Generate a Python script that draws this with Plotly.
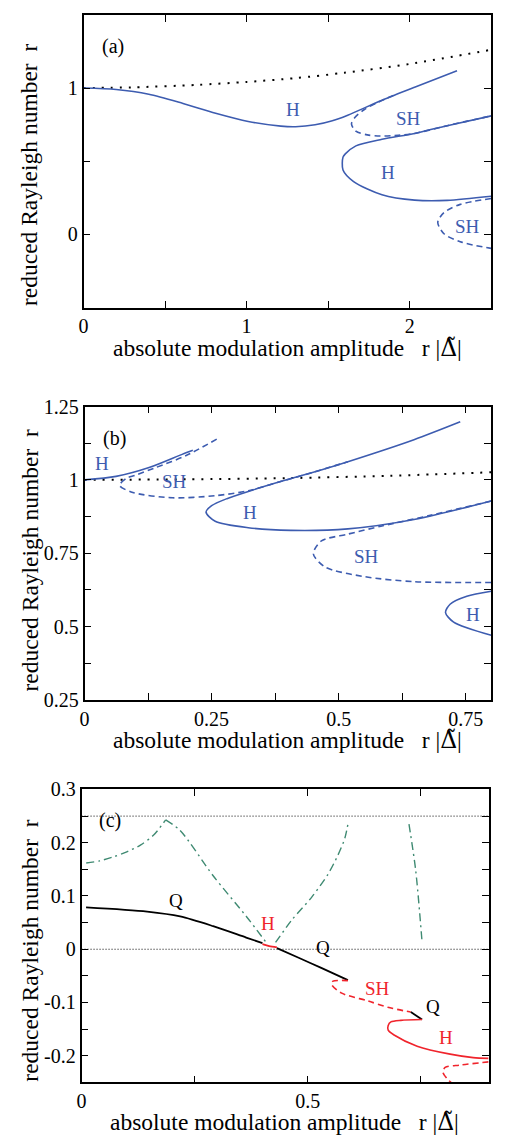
import plotly.graph_objects as go

# ---------------- data ----------------
# Panel (a)
A_DOT_X = [0, 0.3, 0.7, 1.0, 1.3, 1.6, 2.0, 2.5]
A_DOT_Y = [1.0, 1.005, 1.022, 1.042, 1.068, 1.105, 1.165, 1.262]
A_H1_X = [0, 0.2, 0.4, 0.61, 0.81, 1.01, 1.21, 1.3, 1.42, 1.52, 1.62, 1.83, 2.03, 2.29]
A_H1_Y = [1.0, 0.99, 0.958, 0.895, 0.828, 0.772, 0.74, 0.736, 0.749, 0.775, 0.815, 0.917, 1.006, 1.118]
A_SH1_X = [1.9, 1.8, 1.72, 1.665, 1.643, 1.67, 1.74, 1.82, 1.93, 2.03, 2.23, 2.5]
A_SH1_Y = [0.95, 0.9, 0.852, 0.8, 0.755, 0.705, 0.68, 0.672, 0.677, 0.69, 0.743, 0.81]
A_H2_X = [2.5, 2.23, 2.03, 1.83, 1.67, 1.605, 1.591, 1.591, 1.656, 1.83, 2.03, 2.23, 2.5]
A_H2_Y = [0.81, 0.743, 0.69, 0.65, 0.605, 0.55, 0.528, 0.44, 0.361, 0.271, 0.234, 0.232, 0.26]
A_SH2_X = [2.5, 2.31, 2.21, 2.172, 2.21, 2.31, 2.5]
A_SH2_Y = [0.245, 0.205, 0.149, 0.082, 0.004, -0.051, -0.096]

# Panel (b)
B_DOT_X = [0, 0.2, 0.4, 0.6, 0.8]
B_DOT_Y = [1.0, 1.002, 1.006, 1.014, 1.026]
B_H1_X = [0, 0.062, 0.127, 0.192, 0.213]
B_H1_Y = [1.0, 1.012, 1.042, 1.087, 1.101]
B_SH1_X = [0.26, 0.2, 0.14, 0.1, 0.082, 0.069, 0.095, 0.173, 0.257, 0.322, 0.389, 0.45, 0.518]
B_SH1_Y = [1.139, 1.083, 1.042, 1.016, 1.005, 0.981, 0.957, 0.939, 0.946, 0.963, 0.996, 1.026, 1.062]
B_H2_X = [0.739, 0.648, 0.518, 0.45, 0.389, 0.33, 0.28, 0.25, 0.239, 0.257, 0.322, 0.406, 0.518, 0.648, 0.8]
B_H2_Y = [1.198, 1.137, 1.062, 1.026, 0.996, 0.965, 0.936, 0.912, 0.89, 0.859, 0.837, 0.828, 0.833, 0.865, 0.928]
B_SH2_X = [0.8, 0.68, 0.583, 0.518, 0.466, 0.45, 0.473, 0.551, 0.648, 0.8]
B_SH2_Y = [0.928, 0.879, 0.842, 0.815, 0.792, 0.748, 0.703, 0.67, 0.653, 0.65]
B_H3_X = [0.8, 0.752, 0.719, 0.71, 0.726, 0.8]
B_H3_Y = [0.62, 0.603, 0.576, 0.548, 0.515, 0.47]

# Panel (c)
C_REF_X = [0, 0.9]
C_REF_LEVELS = [0.0, 0.25]
C_Q1_X = [0.01, 0.145, 0.218, 0.291, 0.364, 0.4]
C_Q1_Y = [0.0786, 0.0707, 0.0616, 0.0433, 0.022, 0.0116]
C_HA_X = [0.4, 0.415, 0.432]
C_HA_Y = [0.0097, 0.006, 0.0037]
C_Q2_X = [0.432, 0.48, 0.53, 0.589]
C_Q2_Y = [0.002, -0.016, -0.035, -0.058]
C_SH1_X = [0.589, 0.556, 0.553, 0.574, 0.633, 0.677, 0.728]
C_SH1_Y = [-0.059, -0.06, -0.066, -0.082, -0.097, -0.109, -0.118]
C_Q3_X = [0.728, 0.753]
C_Q3_Y = [-0.118, -0.132]
C_H2_X = [0.753, 0.706, 0.684, 0.678, 0.678, 0.691, 0.742, 0.815, 0.866, 0.9]
C_H2_Y = [-0.132, -0.1335, -0.1365, -0.143, -0.152, -0.161, -0.182, -0.197, -0.2035, -0.205]
C_SH2_X = [0.9, 0.837, 0.804, 0.799, 0.808, 0.817]
C_SH2_Y = [-0.2115, -0.2175, -0.222, -0.231, -0.243, -0.25]
C_PH1A_X = [0.0103, 0.04, 0.072, 0.1, 0.131, 0.16, 0.186]
C_PH1A_Y = [0.162, 0.166, 0.174, 0.183, 0.196, 0.215, 0.243]
C_PH1B_X = [0.186, 0.218, 0.291, 0.364, 0.408]
C_PH1B_Y = [0.243, 0.223, 0.138, 0.062, 0.013]
C_PH2_X = [0.429, 0.465, 0.509, 0.545, 0.567, 0.582, 0.59]
C_PH2_Y = [0.0128, 0.055, 0.098, 0.141, 0.177, 0.208, 0.2395]
C_PH3_X = [0.724, 0.739, 0.753]
C_PH3_Y = [0.235, 0.147, 0.0128]

# labels
A_LAB = [("H", 1.287, 0.855), ("SH", 1.994, 0.79), ("H", 1.864, 0.421), ("SH", 2.355, 0.053)]
B_LAB = [("H", 0.035, 1.056), ("SH", 0.176, 0.995), ("H", 0.325, 0.889), ("SH", 0.554, 0.739), ("H", 0.765, 0.541)]
C_LAB = [("Q", 0.209, 0.092, "black"), ("H", 0.412, 0.049, "red"), ("Q", 0.533, 0.004, "black"),
         ("SH", 0.655, -0.073, "red"), ("Q", 0.778, -0.108, "black"), ("H", 0.806, -0.165, "red")]

# ---------------- styling ----------------
W, H = 517, 1148
FONT = "Liberation Serif, Times New Roman, serif"
BLUE = "#3d5cb0"
RED = "#f0242c"
GREEN = "#3f8a72"
BLACK = "#000000"
DASH = "6px,4px"
DOTS = "2px,7px"
DASHDOT = "8px,4px,2px,4px"

fig = go.Figure()


def add(x, y, xa, ya, color, dash="solid", width=1.6, shape="spline"):
    fig.add_trace(go.Scatter(x=x, y=y, xaxis=xa, yaxis=ya, mode="lines",
                             line=dict(color=color, dash=dash, width=width, shape=shape, smoothing=0.8),
                             showlegend=False, hoverinfo="skip"))


# panel a
add(A_DOT_X, A_DOT_Y, "x", "y", BLACK, DOTS, 2)
add(A_H1_X, A_H1_Y, "x", "y", BLUE)
add(A_SH1_X, A_SH1_Y, "x", "y", BLUE, DASH)
add(A_H2_X, A_H2_Y, "x", "y", BLUE)
add(A_SH2_X, A_SH2_Y, "x", "y", BLUE, DASH)
# panel b
add(B_DOT_X, B_DOT_Y, "x2", "y2", BLACK, DOTS, 2)
add(B_H1_X, B_H1_Y, "x2", "y2", BLUE)
add(B_SH1_X, B_SH1_Y, "x2", "y2", BLUE, DASH)
add(B_H2_X, B_H2_Y, "x2", "y2", BLUE)
add(B_SH2_X, B_SH2_Y, "x2", "y2", BLUE, DASH)
add(B_H3_X, B_H3_Y, "x2", "y2", BLUE)
# panel c
for lev in C_REF_LEVELS:
    add(C_REF_X, [lev, lev], "x3", "y3", BLACK, "1px,2px", 1, "linear")
add(C_PH1A_X, C_PH1A_Y, "x3", "y3", GREEN, DASHDOT, 1.4)
add(C_PH1B_X, C_PH1B_Y, "x3", "y3", GREEN, DASHDOT, 1.4)
add(C_PH2_X, C_PH2_Y, "x3", "y3", GREEN, DASHDOT, 1.4)
add(C_PH3_X, C_PH3_Y, "x3", "y3", GREEN, DASHDOT, 1.4)
add(C_Q1_X, C_Q1_Y, "x3", "y3", BLACK, "solid", 1.8)
add(C_Q2_X, C_Q2_Y, "x3", "y3", BLACK, "solid", 1.8)
add(C_HA_X, C_HA_Y, "x3", "y3", RED, "solid", 1.8)
add(C_SH1_X, C_SH1_Y, "x3", "y3", RED, DASH, 1.6)
add(C_Q3_X, C_Q3_Y, "x3", "y3", BLACK, "solid", 1.8, "linear")
add(C_H2_X, C_H2_Y, "x3", "y3", RED, "solid", 1.6)
add(C_SH2_X, C_SH2_Y, "x3", "y3", RED, DASH, 1.6)


def py(p):
    return 1 - p / H


def pxx(p):
    return p / W


tickfont = dict(family=FONT, size=20, color="black")


def axis(domain, rng, dtick, minor, anchor, **kw):
    d = dict(domain=domain, range=rng, dtick=dtick, tick0=0, anchor=anchor,
             showgrid=False, zeroline=False, showline=True, linecolor="black", linewidth=1.6,
             mirror="ticks", ticks="inside", ticklen=7, tickwidth=1, tickcolor="black",
             tickfont=tickfont,
             minor=dict(dtick=minor, tick0=0, ticks="inside", ticklen=7, tickwidth=1, tickcolor="black", showgrid=False))
    d.update(kw)
    return d


fig.update_layout(
    width=W, height=H, autosize=False,
    margin=dict(l=0, r=0, t=0, b=0),
    paper_bgcolor="white", plot_bgcolor="white",
    font=dict(family=FONT, size=20, color="black"),
    xaxis=axis([pxx(79.3), pxx(491)], [0, 2.5], 1, 0.5, "y"),
    yaxis=axis([py(302.3), py(4)], [-0.5, 1.5], 1, 0.5, "x"),
    xaxis2=axis([pxx(80.3), pxx(491)], [0, 0.8], 0.25, 0.125, "y2"),
    yaxis2=axis([py(702.3), py(403.3)], [0.25, 1.25], 0.25, 0.125, "x2",
                tickvals=[0.25, 0.5, 0.75, 1, 1.25], ticktext=["0.25", "0.5", "0.75", "1", "1.25"]),
    xaxis3=axis([pxx(77.3), pxx(488.3)], [0, 0.9], 0.5, 0.25, "y3"),
    yaxis3=axis([py(1092.3), py(793.7)], [-0.25, 0.3], 0.1, 0.05, "x3",
                tickvals=[-0.2, -0.1, 0, 0.1, 0.2, 0.3], ticktext=["-0.2", "-0.1", "0", "0.1", "0.2", "0.3"]),
    yaxis4=dict(overlaying="y3", anchor="x3", side="right", range=[-0.25, 0.3],
                tickvals=C_REF_LEVELS, ticktext=["0", "π"], ticks="", showgrid=False,
                zeroline=False, showline=False, tickfont=tickfont),
)

ann = []
for t, x, y in A_LAB:
    ann.append(dict(text=t, x=x, y=y, xref="x", yref="y", showarrow=False, font=dict(color=BLUE, size=19)))
for t, x, y in B_LAB:
    ann.append(dict(text=t, x=x, y=y, xref="x2", yref="y2", showarrow=False, font=dict(color=BLUE, size=19)))
for t, x, y, c in C_LAB:
    ann.append(dict(text=t, x=x, y=y, xref="x3", yref="y3", showarrow=False,
                    font=dict(color=RED if c == "red" else BLACK, size=19)))
ann.append(dict(text="(a)", x=0.18, y=1.285, xref="x", yref="y", showarrow=False, font=dict(size=20)))
ann.append(dict(text="(b)", x=0.058, y=1.142, xref="x2", yref="y2", showarrow=False, font=dict(size=20)))
ann.append(dict(text="(c)", x=0.064, y=0.241, xref="x3", yref="y3", showarrow=False, font=dict(size=20)))

YT = "reduced Rayleigh number\u00a0\u00a0r"
XT = ("absolute modulation amplitude\u00a0\u00a0\u00a0r |"
      "<span style='font-family:DejaVu Serif'>\u0394\u0303</span>|")
for ycen in [167.5, 560.5, 958.3]:
    ann.append(dict(text=YT, x=pxx(25), y=py(ycen), xref="paper", yref="paper", showarrow=False,
                    textangle=-90, xanchor="center", yanchor="middle", font=dict(size=23.5)))
for xc, ycen in [(285, 343.5), (285, 743.5), (282, 1133)]:
    ann.append(dict(text=XT, x=pxx(xc), y=py(ycen), xref="paper", yref="paper", showarrow=False,
                    xanchor="center", yanchor="middle", font=dict(size=23.5)))
fig.update_layout(annotations=ann)

fig.write_html("out.html", config={"displayModeBar": False},
               post_script="document.body.style.margin='0';")
